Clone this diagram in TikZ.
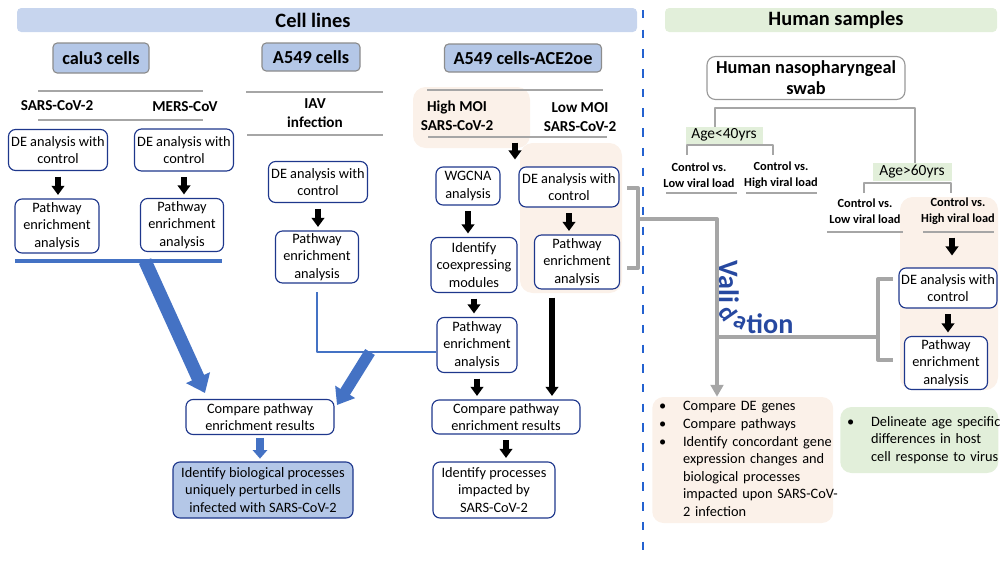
\documentclass[tikz,border=0pt]{standalone}
\usepackage{fontspec}
\setmainfont{Carlito}
\usepackage{tikz}
\usetikzlibrary{arrows.meta,calc}
\usetikzlibrary{positioning}

\definecolor{bandblue}{RGB}{199,213,238}
\definecolor{cellblue}{RGB}{180,199,231}
\definecolor{bandgreen}{RGB}{226,239,218}
\definecolor{peach}{RGB}{251,241,233}
\definecolor{navy}{RGB}{30,55,140}
\definecolor{arrowblue}{RGB}{68,114,196}
\definecolor{linegray}{RGB}{166,166,166}
\definecolor{dashblue}{RGB}{36,98,208}
\definecolor{valblue}{RGB}{38,72,160}

\begin{document}
\begin{tikzpicture}[x=0.025cm,y=-0.025cm,>=Stealth,line join=round,
  sz/.style 2 args={minimum width=#1*0.025cm,minimum height=#2*0.025cm},
  flowbox/.style={draw=navy,line width=0.8pt,rounded corners=5pt,fill=white,align=center,inner sep=1pt,font=\fontsize{10.2}{12.5}\selectfont},
  cellbox/.style={draw=black!45,line width=0.8pt,rounded corners=3pt,fill=cellblue,inner sep=1pt,font=\bfseries\fontsize{13}{15}\selectfont},
  grp/.style={align=center,inner sep=0pt,font=\bfseries\fontsize{10.8}{13.5}\selectfont},
  cmplab/.style={align=center,inner sep=0pt,font=\bfseries\fontsize{8.8}{11.4}\selectfont},
  agetag/.style={fill=bandgreen,inner sep=0.5pt,font=\fontsize{11}{13}\selectfont},
  grayrule/.style={draw=linegray,line width=2pt},
  graylink/.style={draw=linegray,line width=2.8pt},
  blk/.style={-{Triangle[width=9pt,length=6.5pt]},line width=3.6pt,shorten <=4pt,shorten >=2.5pt},
  bigblue/.style={draw=arrowblue,-{Triangle[width=18pt,length=12pt]},line width=9.5pt},
  hilite/.style={fill=peach,rounded corners=9pt},
  bandtitle/.style={inner sep=0pt,font=\bfseries\fontsize{14.5}{17}\selectfont},
  valtext/.style={text=valblue,inner sep=0pt,font=\bfseries\fontsize{20}{22}\selectfont},
  notebox/.style={rounded corners=8pt,align=left,inner ysep=0pt,inner xsep=0.17cm,font=\fontsize{10.2}{12.45}\selectfont}]
\useasboundingbox (0,0) rectangle (1000,562);
% --- section bands and divider
\fill[bandblue,rounded corners=3pt] (17,8) rectangle (637,32);
\fill[bandgreen,rounded corners=3pt] (665,8) rectangle (997,32);
\node[bandtitle] (cells) at (313,20) {Cell lines};
\node[bandtitle] (human) at (836,20) {Human samples};
\draw[dashblue,line width=2pt,dash pattern=on 6pt off 8pt] (643,10) -- (643,558);
% peach highlights
\fill[hilite] (413,87) rectangle (530,148);
\fill[hilite] (520,143) rectangle (622,293);
\fill[hilite] (900,197) rectangle (998,390);
% --- cell lines
\node[cellbox,sz={96}{30}] (calu) at (101,58) {calu3 cells};
\node[cellbox,sz={98}{28}] (a549) at (311,57) {A549 cells};
\node[cellbox,sz={157}{28}] (ace) at (523,58) {A549 cells-ACE2oe};
\draw[grayrule] (38,91) -- (203,91) (38,120) -- (203,120);
\draw[grayrule] (246,92) -- (383,92) (247,135) -- (383,135);
\draw[grayrule] (427,90) -- (603,90) (428,137) -- (607,137);
\node[grp] (sars) at (57,106) {SARS-CoV-2};
\node[grp] (mers) at (185,107) {MERS-CoV};
\node[grp] (iav) at (315,113) {IAV\\infection};
\node[grp] (hmoi) at (457,116) {High MOI\\SARS-CoV-2};
\node[grp] (lmoi) at (580,117) {Low MOI\\SARS-CoV-2};
% boxes
\node[flowbox,sz={99}{41}] (de1) at (58,150) {DE analysis with\\control};
\node[flowbox,sz={84}{54}] (pw1) at (57,226) {Pathway\\enrichment\\analysis};
\node[flowbox,sz={99}{42}] (de2) at (184,150) {DE analysis with\\control};
\node[flowbox,sz={83}{53}] (pw2) at (182,225) {Pathway\\enrichment\\analysis};
\node[flowbox,sz={99}{41}] (de3) at (318,182) {DE analysis with\\control};
\node[flowbox,sz={83}{52}] (pw3) at (317,257) {Pathway\\enrichment\\analysis};
\node[flowbox,sz={64}{38}] (wgcna) at (468,186) {WGCNA\\analysis};
\node[flowbox,sz={100}{40}] (de4) at (569,187) {DE analysis with\\control};
\node[flowbox,sz={86}{55}] (coexp) at (474,265) {Identify\\coexpressing\\modules};
\node[flowbox,sz={85}{54}] (pw4) at (577,262) {Pathway\\enrichment\\analysis};
\node[flowbox,sz={80}{55}] (pw5) at (477,345) {Pathway\\enrichment\\analysis};
\node[flowbox,sz={148}{34}] (cmp2) at (506,417) {Compare pathway\\enrichment results};
\node[flowbox,sz={122}{56}] (proc2) at (494,490) {Identify processes\\impacted by\\SARS-CoV-2};
\node[flowbox,sz={148}{35}] (cmp1) at (260,417) {Compare pathway\\enrichment results};
\node[flowbox,fill=cellblue,sz={180}{56}] (proc1) at (263,490) {Identify biological processes\\uniquely perturbed in cells\\infected with SARS-CoV-2};
% black arrows
\foreach \a/\b in {de1/pw1,de2/pw2,de3/pw3,wgcna/coexp,de4/pw4,coexp/pw5,pw5/cmp2,cmp2/proc2} \draw[blk] (\a.south) -- (\a.south |- \b.north);
\coordinate (moi) at (515,137); \coordinate (moiend) at (515,163);
\draw[blk] (moi) -- (moiend);
\coordinate (lowtop) at (552,292);
\draw[blk] (lowtop) -- (lowtop |- cmp2.north);
% blue merge
\coordinate (bl) at (15,261); \coordinate (br) at (222,261);
\draw[arrowblue,line width=2.6pt] (bl) -- (br);
\coordinate (bj) at (145,261); \coordinate (tipA) at (205,393);
\draw[bigblue] (bj) -- (tipA);
\draw[arrowblue,line width=2pt] ([yshift=-6pt]pw3.south) |- ([yshift=-5pt]pw5.west);
\coordinate (mj) at (370,352); \coordinate (tipB) at (337,405);
\draw[bigblue,line width=8pt,-{Triangle[width=16pt,length=11pt]}] (mj) -- (tipB);
\draw[arrowblue,line width=5pt,-{Triangle[width=10pt,length=6pt]},shorten <=2pt,shorten >=2pt] (cmp1.south) -- (cmp1.south |- proc1.north);
% --- human samples
\node[draw=black!40,line width=0.8pt,rounded corners=6pt,fill=white,sz={198}{43},align=center,inner sep=1pt,font=\bfseries\fontsize{13}{15}\selectfont] (swab) at (806,78) {Human nasopharyngeal\\swab};
\draw[grayrule] (715,127) -- (715,108) -- (915,108) -- (915,163);
\node[agetag,sz={77}{17}] (young) at (724,135) {Age<40yrs};
\draw[grayrule] (687,155) -- (687,145) -- (773,145) -- (773,155);
\node[cmplab] (ylow) at (699,175) {Control vs.\\Low viral load};
\node[cmplab] (yhigh) at (781,175) {Control vs.\\High viral load};
\draw[grayrule] (666,193) -- (737,193) (746,193) -- (817,193);
\node[agetag,sz={79}{18}] (old) at (912,172) {Age>60yrs};
\draw[grayrule] (864,193) -- (864,183) -- (951,183) -- (951,193);
\node[cmplab] (olow) at (865,211) {Control vs.\\Low viral load};
\node[cmplab] (ohigh) at (958,211) {Control vs.\\High viral load};
\draw[grayrule] (827,232) -- (903,232) (923,232) -- (994,232);
\node[flowbox,sz={98}{40}] (de5) at (948,288) {DE analysis with\\control};
\node[flowbox,sz={83}{53}] (pw6) at (946,363) {Pathway\\enrichment\\analysis};
\coordinate (hvl) at (952,232); \coordinate (hvlend) at (952,259);
\draw[blk] (hvl) -- (hvlend);
\draw[blk] (de5.south) -- (de5.south |- pw6.north);
% outcome boxes
\node[notebox,fill=peach,anchor=west,text width=4.18cm,minimum height=126*0.025cm] (notes) at (652,460) {\begin{tabular}{@{}l@{\hspace{12pt}}l@{}}
\textbullet & Compare DE genes\\
\textbullet & Compare pathways\\
\textbullet & Identify concordant gene\\
 & expression changes and\\
 & biological processes\\
 & impacted upon SARS-CoV-\\
 & 2 infection
\end{tabular}};
\node[notebox,fill=bandgreen,anchor=west,text width=3.61cm,minimum height=66*0.025cm] (agediff) at (840,440) {\begin{tabular}{@{}l@{\hspace{12pt}}l@{}}
\textbullet & Delineate age specific\\
 & differences in host\\
 & cell response to virus
\end{tabular}};
% --- validation links
\draw[graylink] (627,188) -- (638,188) -- (638,268) -- (627,268);
\draw[graylink,-{Triangle[width=9pt,length=8.5pt]}] (638,219) -- (717,219) -- (717,0 |- notes.north);
\draw[graylink] (717,337) -- (878,337);
\draw[graylink] (893,279) -- (878,279) -- (878,360) -- (893,360);
\node[valtext,rotate=-90] (vali) at (729,282) {Vali};
\node[valtext,rotate=-55,font=\bfseries\fontsize{17.5}{19}\selectfont] (vd) at (728,313) {d};
\node[valtext,rotate=-25,font=\bfseries\fontsize{17.5}{19}\selectfont] (va) at (740,323) {a};
\node[valtext] (vtion) at (770,324) {tion};
\end{tikzpicture}
\end{document}
